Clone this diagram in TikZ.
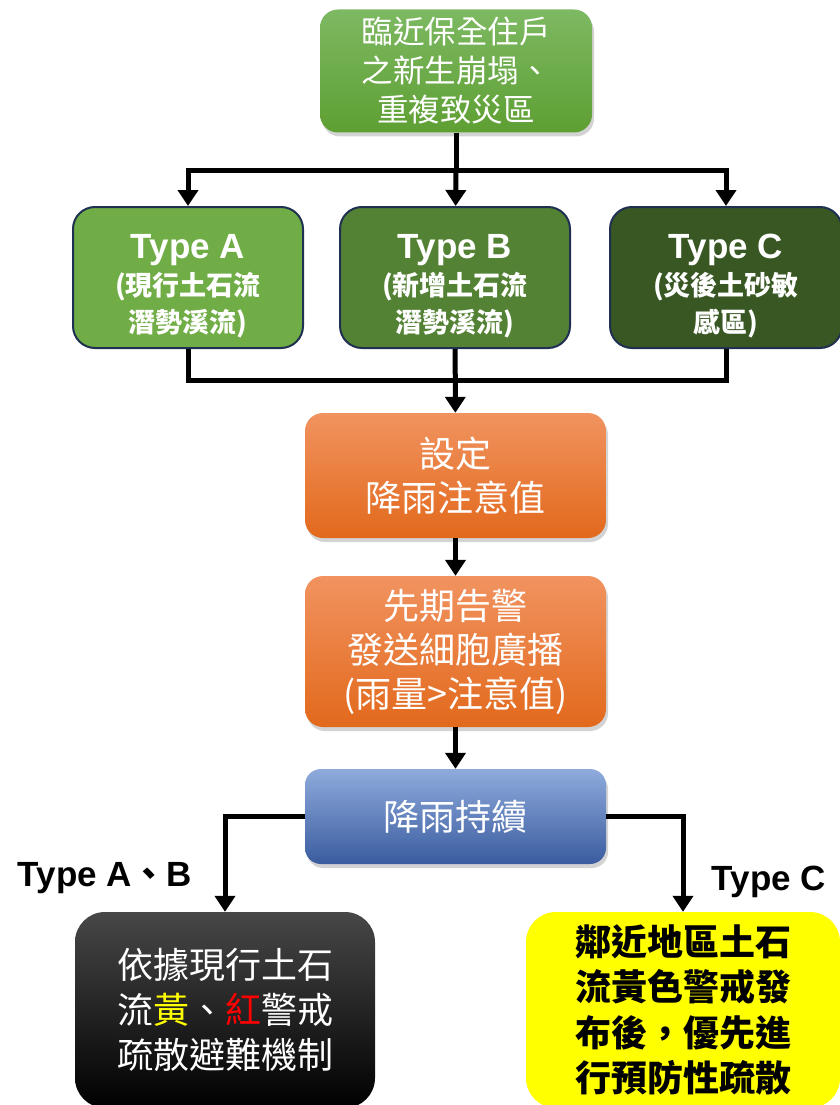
\documentclass[tikz,border=0pt]{standalone}
\usepackage{fontspec}
\setmainfont{Liberation Sans}
\newfontfamily\cjk{Noto Sans CJK TC}
\usetikzlibrary{arrows.meta, shadows}
\definecolor{leaftop}{HTML}{7DB962}
\definecolor{leafbot}{HTML}{5E9F33}
\definecolor{greenA}{HTML}{70AD47}
\definecolor{greenB}{HTML}{548235}
\definecolor{greenC}{HTML}{385723}
\definecolor{navyline}{HTML}{1F3050}
\definecolor{orangetop}{HTML}{F19360}
\definecolor{orangemid}{HTML}{F07F2E}
\definecolor{orangebot}{HTML}{E2691C}
\definecolor{bluetop}{HTML}{8FABDC}
\definecolor{bluemid}{HTML}{7F9CD2}
\definecolor{bluebot}{HTML}{3A5C9F}
\definecolor{warnyellow}{HTML}{FFFF00}
\definecolor{warnred}{HTML}{FF0000}
\newcommand{\typename}[1]{{\normalfont\bfseries\fontsize{35}{37}\selectfont\rule{0pt}{42pt}#1}}

\begin{document}
\begin{tikzpicture}[x=1pt, y=-1pt,
  box/.style={rounded corners=18pt, inner sep=0pt, align=center, text=white},
  shade box/.style={box, drop shadow={opacity=0.35, shadow xshift=2pt, shadow yshift=-4pt}},
  typebox/.style={box, draw=navyline, line width=2pt, rounded corners=22pt, minimum width=230pt, minimum height=141pt,
    fill=#1, font=\cjk\bfseries\fontsize{27}{37}\selectfont},
  stepbox/.style={shade box, minimum width=301pt, top color=orangetop, middle color=orangemid, bottom color=orangebot,
    font=\cjk\fontsize{36}{44}\selectfont},
  ln/.style={line width=5pt},
  arr/.style={line width=5pt, -{Triangle[length=16pt, width=20pt]}},
  branchlabel/.style={font=\bfseries\fontsize{35}{40}\selectfont, inner sep=0pt},
]
\useasboundingbox (0,0) rectangle (840,1105);

% Source area
\node[shade box, minimum width=272pt, minimum height=123pt, top color=leaftop, bottom color=leafbot,
  font=\cjk\fontsize{31.5}{39}\selectfont] (site) at (456,71) {臨近保全住戶\\之新生崩塌、\\重複致災區};

% Three types
\node[typebox=greenA] (typeA) at (188,277.5) {\typename{Type A}\\(現行土石流\\潛勢溪流)};
\node[typebox=greenB] (typeB) at (455,277.5) {\typename{Type B}\\(新增土石流\\潛勢溪流)};
\node[typebox=greenC, minimum width=232pt] (typeC) at (726,277.5) {\typename{Type C}\\(災後土砂敏\\感區)};

% Rainfall steps
\node[stepbox, minimum height=125pt] (setv) at (455.5,475.5) {設定\\降雨注意值};
\node[stepbox, minimum height=151pt] (warn) at (455.5,651.5) {先期告警\\發送細胞廣播\\(雨量>注意值)};
\node[shade box, rounded corners=16pt, minimum width=301pt, minimum height=95pt,
  top color=bluetop, middle color=bluemid, bottom color=bluebot,
  font=\cjk\fontsize{36}{44}\selectfont] (rain) at (455.5,816.5) {降雨持續};

% Evacuation
\node[box, rounded corners=30pt, minimum width=300pt, minimum height=196pt, top color=black!72, bottom color=black,
  font=\cjk\fontsize{36}{45}\selectfont] (evacAB) at (225,1010)
  {依據現行土石\\流{\color{warnyellow}黃}、{\color{warnred}紅}警戒\\疏散避難機制};
\node[box, rounded corners=30pt, minimum width=314pt, minimum height=196pt, fill=warnyellow, text=black,
  font=\cjk\bfseries\fontsize{36}{45.5}\selectfont] (evacC) at (683,1010)
  {鄰近地區土石\\流黃色警戒發\\布後，優先進\\行預防性疏散};

\node[branchlabel] (labAB) at (105,878) {Type A{\cjk\bfseries 、}B};
\node[branchlabel] (labC) at (769,882) {Type C};

% Connectors
\coordinate (split) at (456,170);
\coordinate (merge) at (456,380);
\draw[ln] (site) -- (split);
\draw[arr] (split) -| (typeA);
\draw[arr] (split) -- (typeB);
\draw[arr] (split) -| (typeC);
\draw[ln] (typeA) |- (merge);
\draw[ln] (typeC) |- (merge);
\draw[arr] (typeB) -- (setv);
\draw[arr] (setv) -- (warn);
\draw[arr] (warn) -- (rain);
\draw[arr] (rain.west) -| (evacAB);
\draw[arr] (rain.east) -| (evacC);

\end{tikzpicture}
\end{document}
